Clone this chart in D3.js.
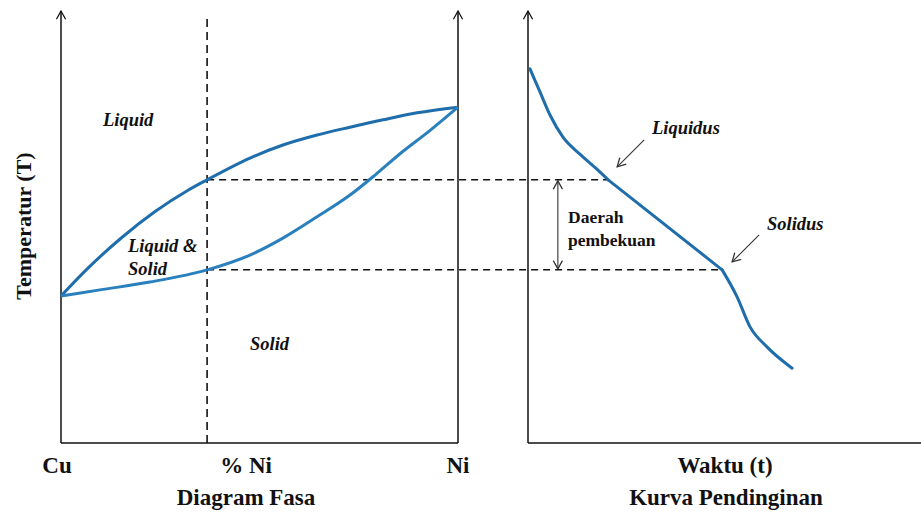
<!DOCTYPE html>
<html>
<head>
<meta charset="utf-8">
<script src="https://cdn.jsdelivr.net/npm/d3@7"></script>
<style>
  html, body { margin: 0; padding: 0; background: #fff; }
  svg { display: block; }
</style>
</head>
<body>
<div id="chart"></div>
<script>
// ---------- DATA ----------
// Phase diagram: composition (% Ni, 0 = Cu, 100 = Ni) vs temperature (relative units)
const liquidusComp = [0, 6.8, 15.4, 23.7, 32.0, 36.8, 47.6, 55.9, 64.5, 72.8, 81.1, 89.7, 100];
const liquidusTemp = [33.8, 40.2, 47.3, 53.2, 58.1, 60.5, 65.5, 68.5, 70.8, 72.6, 74.3, 75.9, 77.2];
const solidusComp  = [0, 9.8, 22.4, 36.8, 47.6, 55.9, 64.5, 72.8, 79.1, 85.4, 92.9, 100];
const solidusTemp  = [33.8, 35.2, 37.0, 39.8, 43.2, 47.1, 52.0, 57.0, 61.6, 66.5, 71.8, 77.2];
// Alloy composition examined
const alloyComp = 36.8;
const liquidusPointTemp = 60.5;
const solidusPointTemp = 39.8;
// Cooling curve: time (relative) vs temperature (relative)
const coolTime = [0.5, 3.05, 5.6, 8.9, 13.2, 17.6, 20.4, 49.4, 53.2, 56.5, 60.8, 67.2];
const coolTemp = [86.0, 80.7, 75.4, 70.3, 66.4, 62.9, 60.5, 39.8, 33.6, 26.7, 22.1, 17.2];
const freezeRangeTime = 7.6;
// Labels
const phaseLabels = ["Liquid", "Liquid &", "Solid", "Solid"];
const compTickLabels = ["Cu", "% Ni", "Ni"];
const axisTitles = ["Temperatur (T)", "Diagram Fasa", "Waktu (t)", "Kurva Pendinginan"];
const coolLabels = ["Liquidus", "Solidus", "Daerah", "pembekuan"];

// ---------- SETUP ----------
const W = 921, H = 514;
const FONT = "'Liberation Serif', Tinos, 'Times New Roman', Times, 'Nimbus Roman', 'Nimbus Roman No9 L', FreeSerif, 'Noto Serif', 'DejaVu Serif', serif";
const svg = d3.select("#chart").append("svg").attr("width", W).attr("height", H);

const xComp = d3.scaleLinear().domain([0, 100]).range([61, 458]);
const xTime = d3.scaleLinear().domain([0, 100]).range([528, 921]);
const yTemp = d3.scaleLinear().domain([0, 100]).range([443, 8]);

const defs = svg.append("defs");
function arrowMarker(id, color, w, h) {
  defs.append("marker").attr("id", id)
    .attr("viewBox", "-10 -6 12 12").attr("refX", 0).attr("refY", 0)
    .attr("markerWidth", w).attr("markerHeight", h)
    .attr("markerUnits", "userSpaceOnUse")
    .attr("orient", "auto-start-reverse")
    .append("path").attr("d", "M-9,-5 L0,0 L-9,5")
    .attr("fill", "none").attr("stroke", color).attr("stroke-width", 1.4);
}
arrowMarker("axArrow", "#111", 11, 11);
arrowMarker("thinArrow", "#333", 11, 11);

const blue = "#1f6eab";
const g = svg.append("g");

// ---------- AXES ----------
const yBottom = yTemp(0), yTop = yTemp(99.3);
g.append("line").attr("x1", xComp(0)).attr("x2", xComp(0)).attr("y1", yBottom).attr("y2", yTop)
  .attr("stroke", "#111").attr("stroke-width", 1.5).attr("marker-end", "url(#axArrow)");
g.append("line").attr("x1", xComp(100)).attr("x2", xComp(100)).attr("y1", yBottom).attr("y2", yTop)
  .attr("stroke", "#111").attr("stroke-width", 1.5).attr("marker-end", "url(#axArrow)");
g.append("line").attr("x1", xComp(0)).attr("x2", xComp(100)).attr("y1", yBottom).attr("y2", yBottom)
  .attr("stroke", "#111").attr("stroke-width", 1.5);
g.append("line").attr("x1", xTime(0)).attr("x2", xTime(0)).attr("y1", yBottom).attr("y2", yTop)
  .attr("stroke", "#111").attr("stroke-width", 1.5).attr("marker-end", "url(#axArrow)");
g.append("line").attr("x1", xTime(0)).attr("x2", xTime(100)).attr("y1", yBottom).attr("y2", yBottom)
  .attr("stroke", "#111").attr("stroke-width", 1.5);

// ---------- DASHED GUIDES ----------
g.append("line").attr("x1", xComp(alloyComp)).attr("x2", xComp(alloyComp))
  .attr("y1", yBottom).attr("y2", yTemp(98.2))
  .attr("stroke", "#111").attr("stroke-width", 1.6).attr("stroke-dasharray", "8,5");
g.append("line").attr("x1", xComp(alloyComp)).attr("x2", xTime(coolTime[6]))
  .attr("y1", yTemp(liquidusPointTemp)).attr("y2", yTemp(liquidusPointTemp))
  .attr("stroke", "#111").attr("stroke-width", 1.5).attr("stroke-dasharray", "7,5");
g.append("line").attr("x1", xComp(alloyComp)).attr("x2", xTime(coolTime[7]))
  .attr("y1", yTemp(solidusPointTemp)).attr("y2", yTemp(solidusPointTemp))
  .attr("stroke", "#111").attr("stroke-width", 1.5).attr("stroke-dasharray", "7,5");

// ---------- PHASE CURVES ----------
const compLine = d3.line().x(d => xComp(d[0])).y(d => yTemp(d[1])).curve(d3.curveMonotoneX);
g.append("path").datum(liquidusComp.map((c, i) => [c, liquidusTemp[i]]))
  .attr("d", compLine).attr("fill", "none").attr("stroke", blue).attr("stroke-width", 3);
g.append("path").datum(solidusComp.map((c, i) => [c, solidusTemp[i]]))
  .attr("d", compLine).attr("fill", "none").attr("stroke", "#2a80bd").attr("stroke-width", 3);

// ---------- COOLING CURVE ----------
const coolPts = coolTime.map((t, i) => [t, coolTemp[i]]);
const timeLineSmooth = d3.line().x(d => xTime(d[0])).y(d => yTemp(d[1])).curve(d3.curveMonotoneX);
const timeLineStraight = d3.line().x(d => xTime(d[0])).y(d => yTemp(d[1]));
const seg1 = coolPts.slice(0, 7), seg2 = coolPts.slice(6, 8), seg3 = coolPts.slice(7);
[[seg1, timeLineSmooth], [seg2, timeLineStraight], [seg3, timeLineSmooth]].forEach(([seg, fn]) => {
  g.append("path").datum(seg).attr("d", fn).attr("fill", "none")
    .attr("stroke", blue).attr("stroke-width", 3).attr("stroke-linecap", "round").attr("stroke-linejoin", "round");
});

// double arrow for freezing range
g.append("line").attr("x1", xTime(freezeRangeTime)).attr("x2", xTime(freezeRangeTime))
  .attr("y1", yTemp(liquidusPointTemp) + 1).attr("y2", yTemp(solidusPointTemp) - 1)
  .attr("stroke", "#333").attr("stroke-width", 1.1)
  .attr("marker-start", "url(#thinArrow)").attr("marker-end", "url(#thinArrow)");

// annotation arrows
const liqX = xTime(coolTime[6]), liqY = yTemp(coolTemp[6]);
const solX = xTime(coolTime[7]), solY = yTemp(coolTemp[7]);
g.append("line").attr("x1", liqX + 36).attr("y1", liqY - 40).attr("x2", liqX + 9).attr("y2", liqY - 13)
  .attr("stroke", "#333").attr("stroke-width", 1.1).attr("marker-end", "url(#thinArrow)");
g.append("line").attr("x1", solX + 37).attr("y1", solY - 35).attr("x2", solX + 10).attr("y2", solY - 8)
  .attr("stroke", "#333").attr("stroke-width", 1.1).attr("marker-end", "url(#thinArrow)");

// ---------- TEXT ----------
const it = (txt, x, y) => g.append("text").text(txt).attr("x", x).attr("y", y)
  .attr("font-family", FONT).attr("fill", "#111")
  .attr("font-size", 18.5).attr("font-style", "italic").attr("font-weight", "bold");
it(phaseLabels[0], 103, 126);
it(phaseLabels[1], 128, 252);
it(phaseLabels[2], 128, 275);
it(phaseLabels[3], 250, 350);
it(coolLabels[0], 652, 134);
it(coolLabels[1], 767, 230);

const bd = (txt, x, y, size, anchor) => g.append("text").text(txt).attr("x", x).attr("y", y)
  .attr("font-family", FONT).attr("fill", "#111")
  .attr("font-size", size).attr("font-weight", "bold").attr("text-anchor", anchor || "start");
bd(coolLabels[2], 568, 223, 17.5);
bd(coolLabels[3], 568, 246, 17.5);

bd(compTickLabels[0], xComp(0) - 4, 473, 23, "middle");
bd(compTickLabels[1], 246, 473, 23, "middle");
bd(compTickLabels[2], xComp(100), 473, 23, "middle");
bd(axisTitles[1], 246, 505, 23, "middle");
bd(axisTitles[2], 725, 473, 23, "middle");
bd(axisTitles[3], 726, 505, 23, "middle");

g.append("text").text(axisTitles[0])
  .attr("transform", "translate(31,226) rotate(-90)")
  .attr("font-family", FONT).attr("fill", "#111")
  .attr("text-anchor", "middle").attr("font-size", 22).attr("font-weight", "bold");
</script>
</body>
</html>
